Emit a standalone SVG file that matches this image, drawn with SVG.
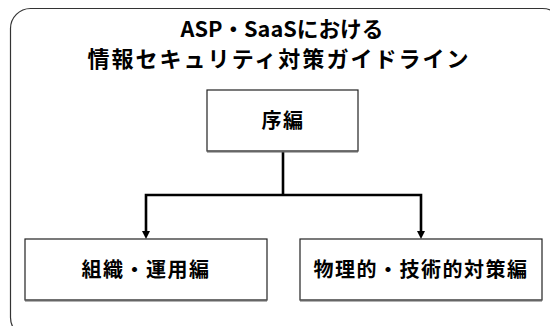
<svg xmlns="http://www.w3.org/2000/svg" width="550" height="326" viewBox="0 0 550 326">
<defs>
<style>
.frame{fill:#fff;stroke:#333;stroke-width:1.2}
.box{fill:#fff;stroke:#222;stroke-width:1.2}
.shadow{stroke:#666;stroke-width:2;fill:none}
.t{font-family:"Noto Sans CJK JP","Noto Sans",sans-serif;font-weight:bold;fill:#000;text-anchor:middle}
.title1{font-size:21.5px}
.title2{font-size:22px}
.lbl{font-size:20px;letter-spacing:1.5px}
.conn{fill:none;stroke:#000;stroke-width:2.6}
</style>
</defs>
<rect width="550" height="326" fill="#fff"/>
<g id="frame">
<rect class="frame" x="10.5" y="8.5" width="552" height="329" rx="20" ry="20"/>
<text class="t title1" x="282" y="36.5" textLength="203" lengthAdjust="spacingAndGlyphs">ASP・SaaSにおける</text>
<text class="t title2" x="278" y="67" textLength="381" lengthAdjust="spacing">情報セキュリティ対策ガイドライン</text>
</g>
<g id="connectors">
<polyline class="conn" points="283,152 283,195"/>
<polyline class="conn" points="146,231 146,195 421,195 421,231"/>
<path d="M142,231 L150,231 L146,239 Z" fill="#000"/>
<path d="M417,231 L425,231 L421,239 Z" fill="#000"/>
</g>
<g id="node-jo">
<rect class="box" x="207" y="90" width="151" height="61"/>
<line class="shadow" x1="207" y1="151.5" x2="358" y2="151.5"/>
<text class="t lbl" x="283" y="128">序編</text>
</g>
<g id="node-soshiki">
<rect class="box" x="25" y="239" width="242" height="61"/>
<line class="shadow" x1="25" y1="300.5" x2="267" y2="300.5"/>
<text class="t lbl" x="146" y="277">組織・運用編</text>
</g>
<g id="node-butsuri">
<rect class="box" x="300" y="239" width="242" height="61"/>
<line class="shadow" x1="300" y1="300.5" x2="542" y2="300.5"/>
<text class="t lbl" x="421" y="277">物理的・技術的対策編</text>
</g>
</svg>
